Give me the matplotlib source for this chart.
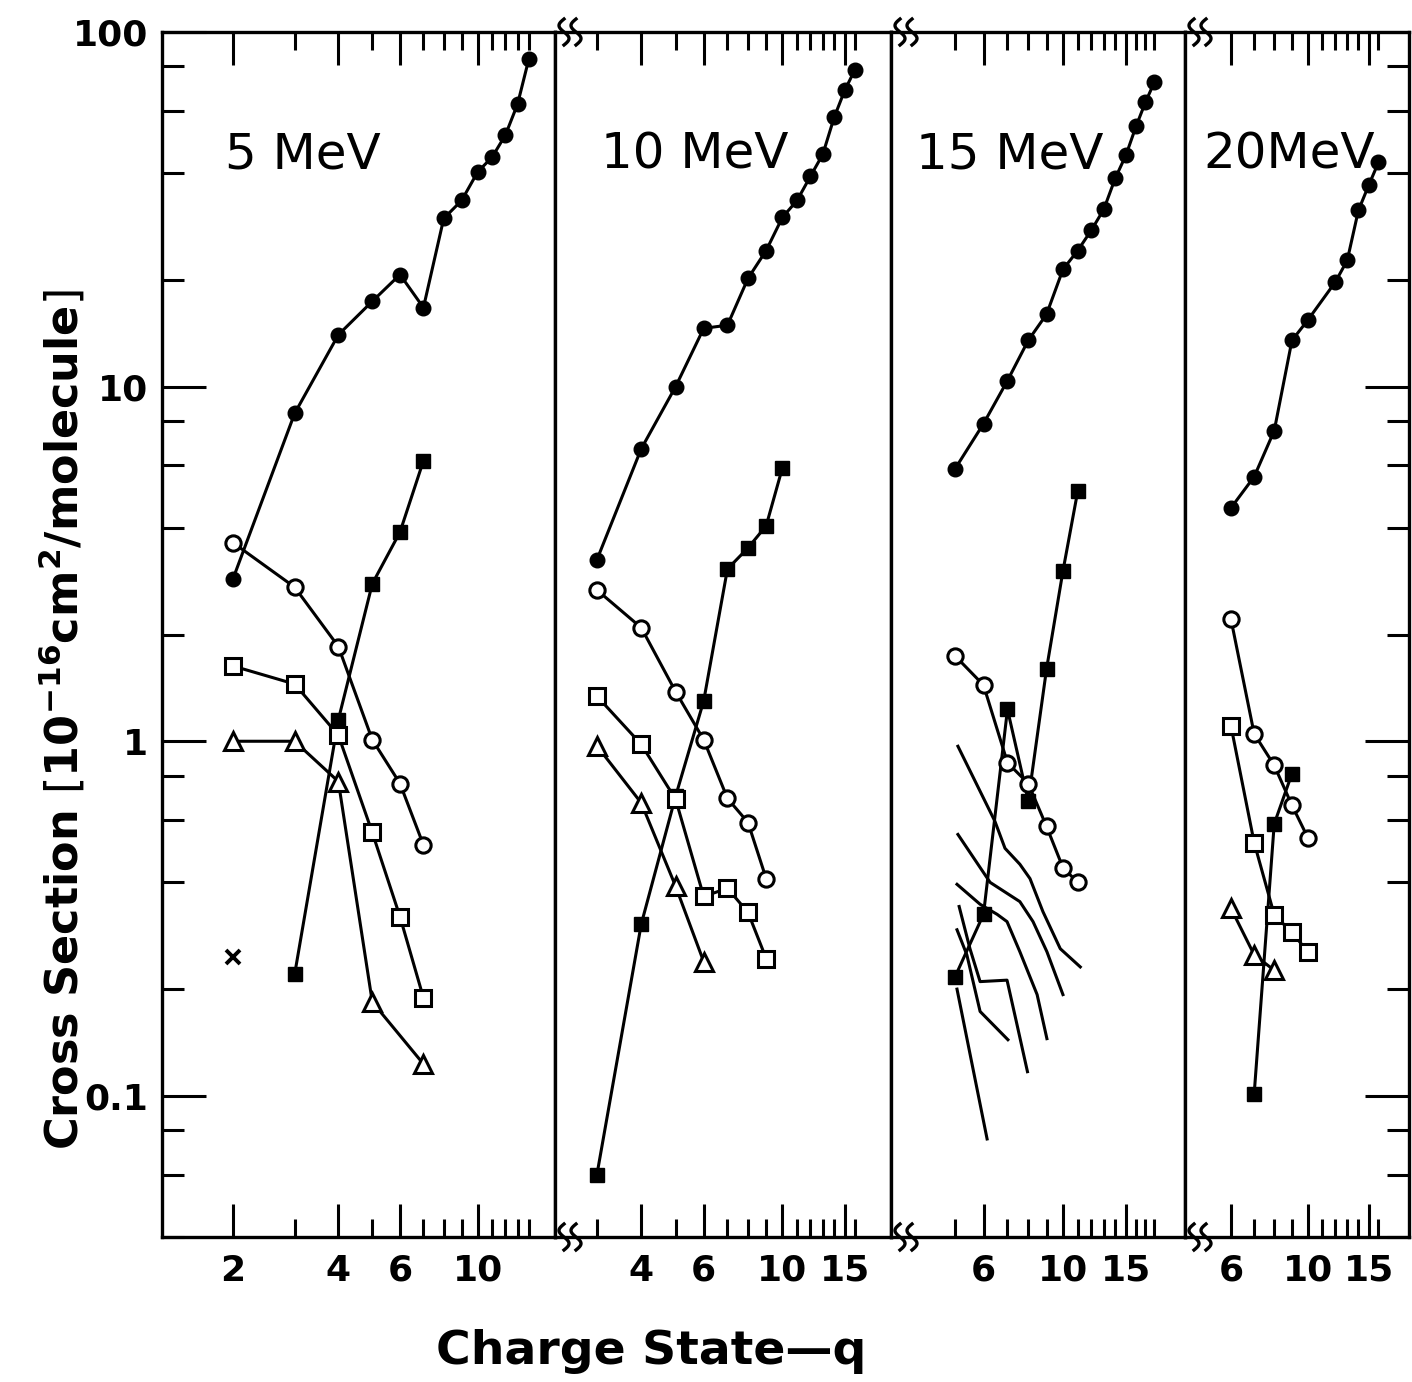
import numpy as np
import matplotlib.pyplot as plt
from matplotlib.lines import Line2D
from matplotlib.ticker import NullFormatter

plt.rcParams['font.family'] = 'DejaVu Sans'
plt.rcParams['mathtext.fontset'] = 'dejavusans'

W, H = 1412, 1382

# ---- 5 MeV ----
q5_fc = [2, 3, 4, 5, 6, 7, 8, 9, 10, 11, 12, 13, 14]
v5_fc = [2.87, 8.4, 14.0, 17.4, 20.7, 16.7, 29.8, 33.5, 40.3, 44.4, 51.2, 62.6, 83.9]
q5_oc = [2, 3, 4, 5, 6, 7]
v5_oc = [3.63, 2.72, 1.85, 1.01, 0.76, 0.51]
q5_os = [2, 3, 4, 5, 6, 7]
v5_os = [1.63, 1.45, 1.04, 0.553, 0.32, 0.189]
q5_tri = [2, 3, 4, 5, 7]
v5_tri = [1.0, 1.0, 0.77, 0.184, 0.123]
q5_fs = [3, 4, 5, 6, 7]
v5_fs = [0.22, 1.15, 2.78, 3.89, 6.18]
q5_x = [2]
v5_x = [0.247]

# ---- 10 MeV ----
q10_fc = [3, 4, 5, 6, 7, 8, 9, 10, 11, 12, 13, 14, 15, 16]
v10_fc = [3.25, 6.68, 10.0, 14.6, 14.9, 20.2, 24.2, 30.0, 33.5, 39.2, 45.2, 57.5, 68.6, 78.1]
q10_oc = [3, 4, 5, 6, 7, 8, 9]
v10_oc = [2.67, 2.09, 1.38, 1.01, 0.69, 0.59, 0.41]
q10_os = [3, 4, 5, 6, 7, 8, 9]
v10_os = [1.34, 0.98, 0.686, 0.365, 0.385, 0.329, 0.244]
q10_tri = [3, 4, 5, 6]
v10_tri = [0.97, 0.67, 0.39, 0.239]
q10_fs = [3, 4, 5, 6, 7, 8, 9, 10]
v10_fs = [0.060, 0.305, 0.70, 1.30, 3.06, 3.51, 4.05, 5.90]

# ---- 15 MeV ----
q15_fc = [5, 6, 7, 8, 9, 10, 11, 12, 13, 14, 15, 16, 17, 18]
v15_fc = [5.87, 7.86, 10.4, 13.5, 16.0, 21.4, 24.2, 27.6, 31.6, 38.7, 45.0, 54.2, 63.4, 72.2]
q15_oc = [5, 6, 7, 8, 9, 10, 11]
v15_oc = [1.74, 1.44, 0.87, 0.76, 0.575, 0.44, 0.40]
q15_fs = [5, 6, 7, 8, 9, 10, 11]
v15_fs = [0.217, 0.325, 1.23, 0.68, 1.60, 3.02, 5.08]
# curves drawn without symbols
q15_a = [5.09, 6.46, 6.89, 7.58, 8.09, 8.79, 9.83, 11.18]
v15_a = [0.968, 0.594, 0.499, 0.45, 0.41, 0.331, 0.26, 0.231]
q15_b = [5.09, 6.26, 7.58, 8.25, 9.02, 10.0]
v15_b = [0.546, 0.40, 0.353, 0.31, 0.255, 0.193]
q15_c = [5.06, 5.87, 6.55, 6.98, 7.58, 8.47, 9.02]
v15_c = [0.395, 0.347, 0.325, 0.31, 0.255, 0.193, 0.145]
q15_d = [5.13, 5.50, 5.87, 6.98, 7.41, 7.96]
v15_d = [0.342, 0.26, 0.21, 0.212, 0.162, 0.117]
q15_e = [5.06, 5.39, 5.87, 7.02]
v15_e = [0.294, 0.25, 0.173, 0.144]
q15_f = [5.06, 6.14]
v15_f = [0.20, 0.0756]

# ---- 20 MeV ----
q20_fc = [6, 7, 8, 9, 10, 12, 13, 14, 15, 16]
v20_fc = [4.55, 5.57, 7.51, 13.5, 15.4, 19.7, 22.7, 31.4, 37.0, 42.9]
q20_oc = [6, 7, 8, 9, 10]
v20_oc = [2.21, 1.05, 0.855, 0.66, 0.535]
q20_os = [6, 7, 8, 9, 10]
v20_os = [1.105, 0.518, 0.324, 0.289, 0.255]
q20_tri = [6, 7, 8]
v20_tri = [0.338, 0.25, 0.226]
q20_fs = [7, 8, 9]
v20_fs = [0.101, 0.585, 0.81]

panel_labels = ['5 MeV', '10 MeV', '15 MeV', '20MeV']
label_x = [0.359, 0.416, 0.405, 0.464]
x_major = [[2, 4, 6, 10], [4, 6, 10, 15], [6, 10, 15], [6, 10, 15]]
x_minor = [range(3, 15), range(3, 17), range(5, 19), range(7, 17)]
x_lims = [(1.254, 16.63), (2.285, 20.24), (3.31, 21.92), (4.42, 19.6)]
y_major = [0.1, 1, 10, 100]
y_minor = [0.04, 0.06, 0.08, 0.2, 0.4, 0.6, 0.8, 2, 4, 6, 8, 20, 40, 60, 80]

# panel edges in pixels
edges = [(162, 555), (555, 891), (891, 1185), (1185, 1409)]
top, bottom = 32, 1237

LW = 2.2
fc = dict(color='k', lw=LW, marker='o', ms=10.5, mfc='k', mec='k')
oc = dict(color='k', lw=LW, marker='o', ms=11, mfc='white', mec='k', mew=2.2)
os_ = dict(color='k', lw=LW, marker='s', ms=11, mfc='white', mec='k', mew=2.2)
tri = dict(color='k', lw=LW, marker='^', ms=13, mfc='white', mec='k', mew=2.2)
fs = dict(color='k', lw=LW, marker='s', ms=10.5, mfc='k', mec='k')
plain = dict(color='k', lw=LW)

fig = plt.figure(figsize=(W / 100, H / 100), dpi=100)
axes = []
for i, (x0, x1) in enumerate(edges):
    ax = fig.add_axes([x0 / W, 1 - bottom / H, (x1 - x0) / W, (bottom - top) / H])
    ax.set_xscale('log')
    ax.set_yscale('log')
    ax.set_xlim(*x_lims[i])
    ax.set_ylim(0.04, 100)
    for s in ax.spines.values():
        s.set_linewidth(2.4)
    ax.set_xticks(x_major[i])
    ax.set_xticklabels([str(v) for v in x_major[i]], fontweight='bold')
    ax.set_xticks([m for m in x_minor[i] if m not in x_major[i]], minor=True)
    ax.xaxis.set_minor_formatter(NullFormatter())
    ax.tick_params(axis='x', which='both', direction='in', top=True, bottom=True,
                   width=2.2, labelsize=26, pad=12)
    ax.tick_params(axis='x', which='major', length=24)
    ax.tick_params(axis='x', which='minor', length=13)
    ax.set_yticks(y_major)
    ax.set_yticks(y_minor, minor=True)
    ax.yaxis.set_minor_formatter(NullFormatter())
    ax.tick_params(axis='y', which='both', direction='in', width=2.2,
                   left=(i == 0), right=(i == 3), labelleft=(i == 0), labelright=False)
    ax.tick_params(axis='y', which='major', length=32, labelsize=26, pad=10)
    ax.tick_params(axis='y', which='minor', length=16)
    if i == 0:
        ax.set_yticklabels(['0.1', '1', '10', '100'], fontweight='bold')
    ax.text(label_x[i], 0.898, panel_labels[i], transform=ax.transAxes,
            ha='center', va='center', fontsize=36)
    axes.append(ax)

ax1, ax2, ax3, ax4 = axes

# 5 MeV
ax1.plot(q5_fc, v5_fc, **fc)
ax1.plot(q5_fs, v5_fs, **fs)
ax1.plot(q5_oc, v5_oc, **oc)
ax1.plot(q5_os, v5_os, **os_)
ax1.plot(q5_tri, v5_tri, **tri)
ax1.plot(q5_x, v5_x, ls='none', marker='x', ms=10, mew=2.8, color='k')

# 10 MeV
ax2.plot(q10_fc, v10_fc, **fc)
ax2.plot(q10_fs, v10_fs, **fs)
ax2.plot(q10_oc, v10_oc, **oc)
ax2.plot(q10_os, v10_os, **os_)
ax2.plot(q10_tri, v10_tri, **tri)

# 15 MeV
for qq, vv in [(q15_a, v15_a), (q15_b, v15_b), (q15_c, v15_c),
               (q15_d, v15_d), (q15_e, v15_e), (q15_f, v15_f)]:
    ax3.plot(qq, vv, **plain)
ax3.plot(q15_fc, v15_fc, **fc)
ax3.plot(q15_fs, v15_fs, **fs)
ax3.plot(q15_oc, v15_oc, **oc)

# 20 MeV
ax4.plot(q20_fc, v20_fc, **fc)
ax4.plot(q20_fs, v20_fs, **fs)
ax4.plot(q20_oc, v20_oc, **oc)
ax4.plot(q20_os, v20_os, **os_)
ax4.plot(q20_tri, v20_tri, **tri)


# axis-break squiggles where the panels join
def squiggle(xp, yp):
    t = np.linspace(0, 1, 40)
    for dx in (9, 21):
        xs = xp + dx - 5 * np.sin(2 * np.pi * t)
        ys = yp - 13 + 26 * t
        fig.add_artist(Line2D(xs / W, 1 - ys / H, color='k', lw=2.4))


for xb in (555, 891, 1185):
    squiggle(xb, top)
    squiggle(xb, bottom)

fig.text(62 / W, 1 - 720 / H,
         r'Cross Section $\left[\mathbf{10^{-16}cm^2/molecule}\right]$',
         rotation=90, ha='center', va='center', fontsize=32, fontweight='bold')
fig.text(651 / W, 1 - 1352 / H, 'Charge State\u2014q', ha='center', va='center',
         fontsize=34, fontweight='bold')

fig.savefig('out.png', dpi=100)
